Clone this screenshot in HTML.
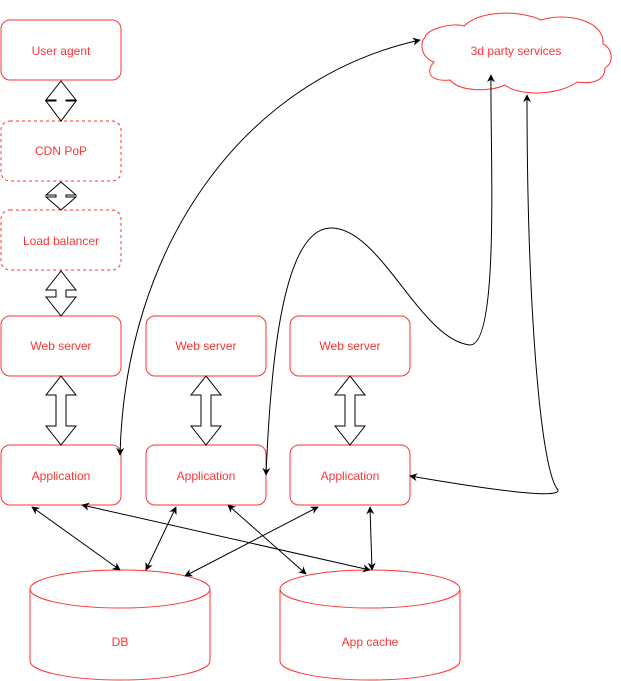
<!DOCTYPE html>
<html><head><style>
body{margin:0;background:#fff;}
svg{display:block;font-family:"Liberation Sans",sans-serif;}
text{fill:#FF3333;font-size:12px;text-anchor:middle;}
</style></head><body>
<svg width="621" height="681" viewBox="0 0 621 681">
<defs>
<marker id="a" viewBox="0 0 10 10" refX="9" refY="5" markerWidth="8" markerHeight="8" orient="auto-start-reverse" markerUnits="userSpaceOnUse"><path d="M0,0 L10,5 L0,10 L3,5 z" fill="#000"/></marker>
</defs>
<g fill="#fff" stroke="#FF3333" stroke-width="1">
<rect x="1" y="20" width="120" height="60" rx="9"/>
<rect x="1" y="121" width="120" height="60" rx="9" stroke-dasharray="3,3"/>
<rect x="1" y="210" width="120" height="60" rx="9" stroke-dasharray="3,3"/>
<rect x="1" y="316" width="120" height="60" rx="9"/>
<rect x="146" y="316" width="120" height="60" rx="9"/>
<rect x="290" y="316" width="120" height="60" rx="9"/>
<rect x="1" y="445" width="120" height="60" rx="9"/>
<rect x="146" y="445" width="120" height="60" rx="9"/>
<rect x="290" y="445" width="120" height="60" rx="9"/>
<path d="M30,589 A90,19 0 0 1 210,589 L210,661 A90,19 0 0 1 30,661 Z M30,589 A90,19 0 0 0 210,589"/>
<path d="M280,589 A90,19 0 0 1 460,589 L460,661 A90,19 0 0 1 280,661 Z M280,589 A90,19 0 0 0 460,589"/>
<path d="M464,26 C480,10 520,10 541,20 C565,12 605,20 603,44 C612,48 615,62 605,68 C605,82 590,84 577,82 C560,95 520,97 505,85 C490,92 460,92 450,80 C430,82 425,72 434,62 C420,58 420,40 425,38 C425,30 450,22 464,26 Z"/>
</g>
<g fill="#fff" stroke="#000" stroke-width="1">
<path d="M61,81 L76,100 L66,100 L66,101 L76,101 L61,121 L46,101 L56,101 L56,100 L46,100 Z"/>
<path d="M61,182 L76,195 L66,195 L66,197 L76,197 L61,210 L46,197 L56,197 L56,195 L46,195 Z"/>
<path d="M61,271 L76,290 L66,290 L66,297 L76,297 L61,316 L46,297 L56,297 L56,290 L46,290 Z"/>
<path d="M61,376 L76,395 L66,395 L66,426 L76,426 L61,445 L46,426 L56,426 L56,395 L46,395 Z"/>
<path d="M206,376 L221,395 L211,395 L211,426 L221,426 L206,445 L191,426 L201,426 L201,395 L191,395 Z"/>
<path d="M350,376 L365,395 L355,395 L355,426 L365,426 L350,445 L335,426 L345,426 L345,395 L335,395 Z"/>
</g>
<g fill="none" stroke="#000" stroke-width="1" marker-start="url(#a)" marker-end="url(#a)">
<path d="M120,455 C125,250 240,80 420,40"/>
<path d="M266,475 C270,380 280,230 330,228 C380,226 420,340 470,345 C500,345 490,150 491,75"/>
<path d="M527,95 C527,300 540,470 558,490 C560,500 480,488 410,476"/>
<path d="M32,507 L120,570"/>
<path d="M82,505 L370,570"/>
<path d="M176,507 L146,570"/>
<path d="M228,505 L306,574"/>
<path d="M318,507 L185,576"/>
<path d="M370,507 L372,570"/>
</g>
<text x="61" y="55">User agent</text>
<text x="61" y="155">CDN PoP</text>
<text x="61" y="245">Load balancer</text>
<text x="61" y="350">Web server</text>
<text x="206" y="350">Web server</text>
<text x="350" y="350">Web server</text>
<text x="61" y="480">Application</text>
<text x="206" y="480">Application</text>
<text x="350" y="480">Application</text>
<text x="120" y="646">DB</text>
<text x="370" y="646">App cache</text>
<text x="516" y="55">3d party services</text>
</svg>
</body></html>
